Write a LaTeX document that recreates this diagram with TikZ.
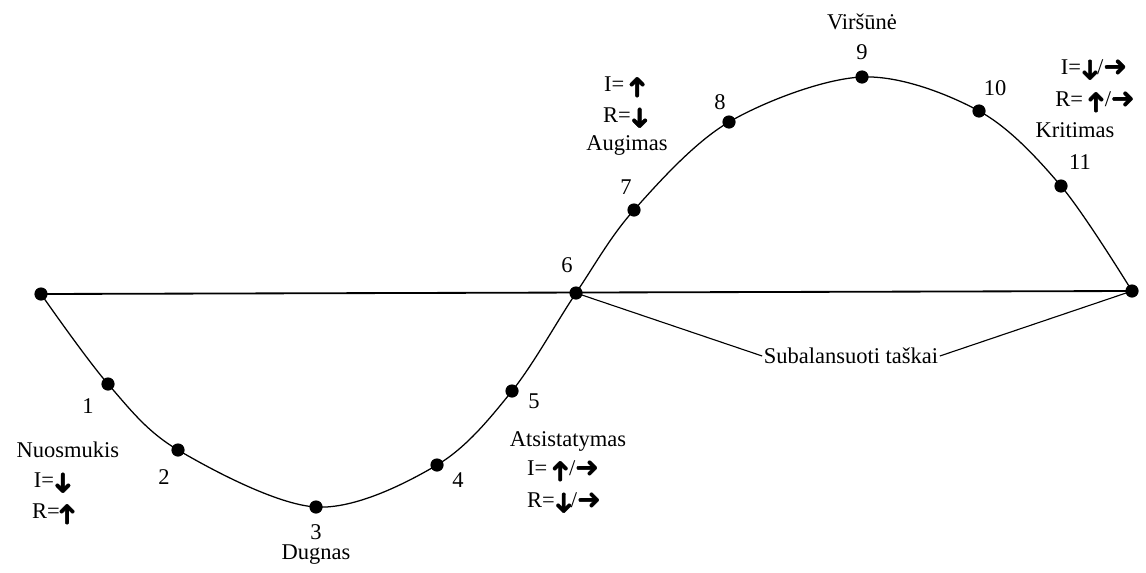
\documentclass[tikz,border=0pt]{standalone}
\usepackage{fontspec}
\usepackage{graphicx}
\setmainfont{Liberation Serif}
\newfontfamily\arw{DejaVu Sans}[FakeBold=1.5]
\usetikzlibrary{positioning}
\newcommand{\arrR}{{\arw\bfseries\fontsize{20}{20}\selectfont\raisebox{-0.03em}{➜}}}
\newcommand{\arrU}{\raisebox{-0.1em}{\rotatebox[origin=c]{90}{\arrR}}}
\newcommand{\arrD}{\raisebox{-0.1em}{\rotatebox[origin=c]{-90}{\arrR}}}

\begin{document}
\begin{tikzpicture}[x=0.025cm,y=-0.025cm,dot/.style={circle,fill=black,inner sep=0pt,minimum size=0.33cm},lbl/.style={font=\fontsize{16}{19}\selectfont,inner sep=1pt},curve/.style={line width=0.9pt},lead/.style={line width=0.8pt}]
    \useasboundingbox (0,0) rectangle (1146,573);
    % points on the cycle
    \node[dot] (s) at (41,294) {};
    \node[dot] (p1) at (108,384) {};
    \node[dot] (p2) at (178,450) {};
    \node[dot] (p3) at (316,507) {};
    \node[dot] (p4) at (437,465) {};
    \node[dot] (p5) at (512,391) {};
    \node[dot] (p6) at (576,293) {};
    \node[dot] (p7) at (634,210) {};
    \node[dot] (p8) at (729,122) {};
    \node[dot] (p9) at (862,77) {};
    \node[dot] (p10) at (979,111) {};
    \node[dot] (p11) at (1061,186) {};
    \node[dot] (e) at (1132,291) {};
    \draw[curve] plot[smooth,tension=0.55] coordinates {(s.center) (p1.center) (p2.center) (p3.center) (p4.center) (p5.center) (p6.center) (p7.center) (p8.center) (p9.center) (p10.center) (p11.center) (e.center)};
    \draw[line width=1.3pt] (s.center)--(e.center);
    % numbers
    \node[lbl] (n1) at (88,406) {1};
    \node[lbl] (n2) at (164,477) {2};
    \node[lbl] (n3) at (316,532) {3};
    \node[lbl] (n4) at (458,480) {4};
    \node[lbl] (n5) at (534,401) {5};
    \node[lbl] (n6) at (567,265) {6};
    \node[lbl] (n7) at (626,187) {7};
    \node[lbl] (n8) at (720,102) {8};
    \node[lbl] (n9) at (862,52) {9};
    \node[lbl] (n10) at (995,88) {10};
    \node[lbl] (n11) at (1080,162) {11};
    % phases
    \node[lbl] (dug) at (316,555) {Dugnas};
    \node[lbl] (vir) at (862,22) {Viršūnė};
    \node[lbl] (nuo) at (68,450) {Nuosmukis};
    \node[lbl] (nuoI) at (52,483) {I=\arrD};
    \node[lbl] (nuoR) at (54,514) {R=\arrU};
    \node[lbl] (ats) at (568,441) {Atsistatymas};
    \node[lbl] (atsI) at (563,471) {I= \arrU/\arrR};
    \node[lbl] (atsR) at (564,503) {R=\arrD/\arrR};
    \node[lbl] (augI) at (625,87) {I= \arrU};
    \node[lbl] (augR) at (625,118) {R=\arrD};
    \node[lbl] (aug) at (627,145) {Augimas};
    \node[lbl] (kriI) at (1094,70) {I=\arrD /\arrR};
    \node[lbl] (kriR) at (1095,102) {R= \arrU/\arrR};
    \node[lbl] (kri) at (1075,130) {Kritimas};
    \node[lbl] (bal) at (851,356) {Subalansuoti taškai};
    \draw[lead] (bal.west)--(p6.center);
    \draw[lead] (bal.east)--(e.center);
  \end{tikzpicture}
\end{document}
